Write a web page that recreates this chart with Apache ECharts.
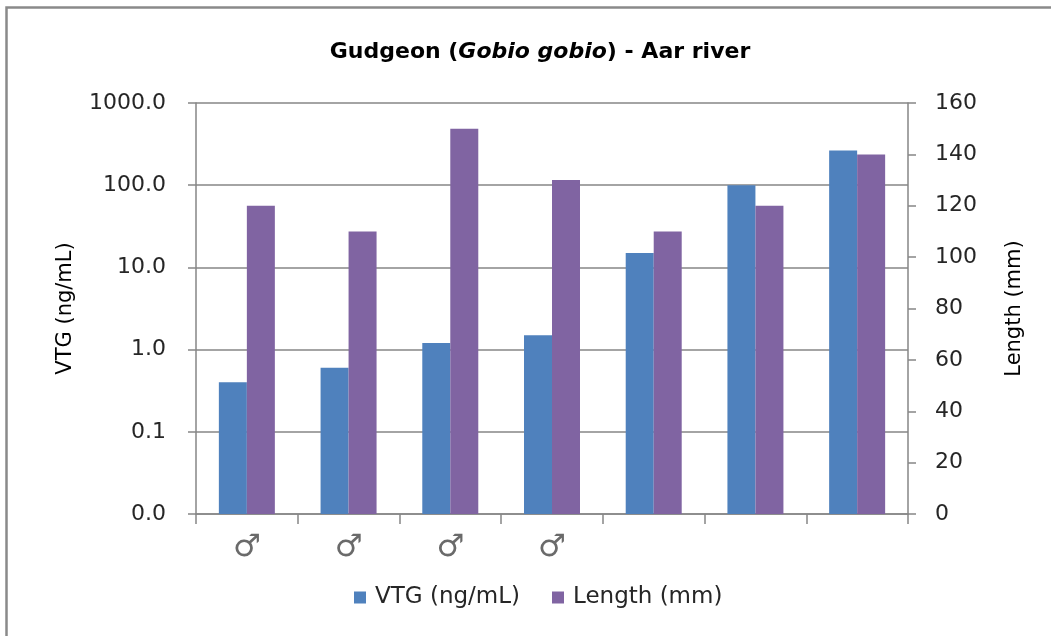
<!DOCTYPE html>
<html>
<head>
<meta charset="utf-8">
<script src="https://cdn.jsdelivr.net/npm/echarts@6/dist/echarts.min.js"></script>
<style>html,body{margin:0;padding:0;background:#fff;}#c{width:1051px;height:636px;}</style>
</head>
<body>
<div id="c"></div>
<script>
var categories = ['\u2642', '\u2642', '\u2642', '\u2642', '', '', ''];
var vtgValues = [0.4, 0.6, 1.2, 1.5, 15, 100, 265];
var lengthValues = [120, 110, 150, 130, 110, 120, 140];
var logAxisMin = 0.01;
var logAxisMax = 1000;

var FONT = 'DejaVu Sans';
var axisColor = '#868686';
var textColor = '#262626';

// bars on the log axis start from the axis minimum: an invisible stacked base
var vtgBase = vtgValues.map(function () { return logAxisMin; });
var vtgAboveBase = vtgValues.map(function (v) { return v - logAxisMin; });

var chart = echarts.init(document.getElementById('c'));
chart.setOption({
  animation: false,
  backgroundColor: '#fff',
  textStyle: { fontFamily: FONT },
  graphic: [{
    type: 'rect', left: 4, top: 5, silent: true,
    shape: { x: 0, y: 0, width: 1200, height: 800 },
    style: { fill: 'none', stroke: '#8a8a8a', lineWidth: 2.5 }
  }],
  title: {
    text: 'Gudgeon ({i|Gobio gobio}) - Aar river',
    left: 535, top: 36, textAlign: 'center',
    textStyle: {
      fontFamily: FONT, fontSize: 22, fontWeight: 'bold', color: '#000',
      rich: { i: { fontFamily: FONT, fontSize: 22, fontWeight: 'bold', fontStyle: 'italic', color: '#000' } }
    }
  },
  legend: {
    bottom: 22, left: 349, itemWidth: 12, itemHeight: 12, itemGap: 32,
    icon: 'rect',
    textStyle: { fontFamily: FONT, fontSize: 23, color: textColor, padding: [0, 0, 0, 4] },
    data: ['VTG (ng/mL)', 'Length (mm)']
  },
  grid: { left: 196, right: 143, top: 103, bottom: 122, containLabel: false },
  xAxis: {
    type: 'category', data: categories,
    axisLine: { lineStyle: { color: axisColor, width: 1.5 } },
    axisTick: { show: true, length: 10, lineStyle: { color: axisColor, width: 1.5 } },
    axisLabel: { fontFamily: FONT, fontSize: 31, color: '#6a6a6a', margin: 18 }
  },
  yAxis: [{
    type: 'log', logBase: 10, min: logAxisMin, max: logAxisMax,
    name: 'VTG (ng/mL)', nameLocation: 'middle', nameGap: 120,
    nameTextStyle: { fontFamily: FONT, fontSize: 21, color: '#000' },
    axisLine: { show: true, lineStyle: { color: axisColor, width: 1.5 } },
    axisTick: { show: true, length: 8, lineStyle: { color: axisColor, width: 1.5 } },
    axisLabel: { fontFamily: FONT, fontSize: 22, color: textColor, margin: 30,
      formatter: function (v) { return Number(v).toFixed(1); } },
    splitLine: { show: true, lineStyle: { color: axisColor, width: 1.5 } }
  }, {
    type: 'value', min: 0, max: 160, interval: 20,
    name: 'Length (mm)', nameLocation: 'middle', nameGap: 96,
    nameTextStyle: { fontFamily: FONT, fontSize: 21, color: '#000' },
    axisLine: { show: true, lineStyle: { color: axisColor, width: 1.5 } },
    axisTick: { show: true, length: 8, lineStyle: { color: axisColor, width: 1.5 } },
    axisLabel: { fontFamily: FONT, fontSize: 22, color: textColor, margin: 27 },
    splitLine: { show: false }
  }],
  series: [{
    name: 'base', type: 'bar', yAxisIndex: 0, stack: 'vtg', data: vtgBase,
    barWidth: 28, barGap: '0%', silent: true,
    itemStyle: { color: 'rgba(0,0,0,0)' }
  }, {
    name: 'VTG (ng/mL)', type: 'bar', yAxisIndex: 0, stack: 'vtg', data: vtgAboveBase,
    barWidth: 28, barGap: '0%',
    itemStyle: { color: '#4F81BD' }
  }, {
    name: 'Length (mm)', type: 'bar', yAxisIndex: 1, data: lengthValues,
    barWidth: 28, barGap: '0%',
    itemStyle: { color: '#8064A2' }
  }]
});
</script>
</body>
</html>
